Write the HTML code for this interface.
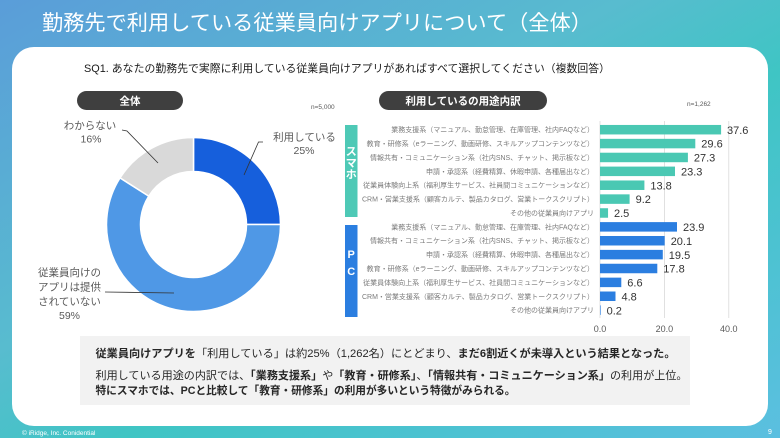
<!DOCTYPE html>
<html lang="ja">
<head>
<meta charset="utf-8">
<style>
  html,body{margin:0;padding:0;}
  body{width:780px;height:438px;overflow:hidden;
    background:linear-gradient(to bottom right,#5a9dd9 0%,#58bccf 40%,#3fc5c4 58%,#5bbfe0 100%);
    font-family:"Liberation Sans","Noto Sans CJK JP",sans-serif;}
  svg{display:block;}
  text{font-family:"Liberation Sans","Noto Sans CJK JP",sans-serif;}
</style>
</head>
<body>
<svg width="780" height="438" viewBox="0 0 780 438" xmlns="http://www.w3.org/2000/svg">
  <!-- Title -->
  <text x="42" y="30" font-size="21" fill="#ffffff" textLength="550" lengthAdjust="spacingAndGlyphs">勤務先で利用している従業員向けアプリについて（全体）</text>

  <!-- White panel -->
  <rect x="12" y="47" width="756" height="379" rx="22" ry="22" fill="#ffffff"/>

  <!-- SQ1 -->
  <text x="84" y="72" font-size="10.8" fill="#1a1a1a" textLength="526" lengthAdjust="spacingAndGlyphs">SQ1.  あなたの勤務先で実際に利用している従業員向けアプリがあればすべて選択してください（複数回答）</text>

  <!-- Pills -->
  <rect x="77" y="91" width="106" height="19" rx="9.5" fill="#3f3f3f"/>
  <text x="130" y="104.5" font-size="10.5" fill="#ffffff" text-anchor="middle" font-weight="bold">全体</text>
  <text x="311" y="109" font-size="6.5" fill="#595959">n=5,000</text>

  <rect x="379" y="91" width="168" height="19" rx="9.5" fill="#3f3f3f"/>
  <text x="463" y="104.5" font-size="10.5" fill="#ffffff" text-anchor="middle" font-weight="bold">利用しているの用途内訳</text>
  <text x="687" y="106" font-size="6.5" fill="#595959">n=1,262</text>

  <!-- Donut -->
  <g stroke="#ffffff" stroke-width="1.5">
    <path d="M193.5,137.5 A87,87 0 0 1 280.5,224.5 L246.5,224.5 A53,53 0 0 0 193.5,171.5 Z" fill="#165fdc"/>
    <path d="M280.5,224.5 A87,87 0 1 1 120.05,177.89 L148.75,196.1 A53,53 0 1 0 246.5,224.5 Z" fill="#4f98e6"/>
    <path d="M120.05,177.89 A87,87 0 0 1 193.5,137.5 L193.5,171.5 A53,53 0 0 0 148.75,196.1 Z" fill="#d9d9d9"/>
  </g>

  <!-- Donut labels -->
  <g font-size="10.5" fill="#595959" text-anchor="middle">
    <text x="304.5" y="140.5">利用している</text>
    <text x="304" y="154">25%</text>
    <text x="90" y="129">わからない</text>
    <text x="91" y="142.5">16%</text>
    <text x="69.5" y="276">従業員向けの</text>
    <text x="69.5" y="290.5">アプリは提供</text>
    <text x="69.5" y="305">されていない</text>
    <text x="69.5" y="319">59%</text>
  </g>
  <g stroke="#333333" stroke-width="0.8" fill="none">
    <polyline points="263,142 258.5,142 244,175"/>
    <polyline points="122,130 127,131 158,163"/>
    <polyline points="105,292 174,293"/>
  </g>

  <!-- Side group bars -->
  <rect x="345" y="125" width="12.5" height="92" fill="#4ec9b6"/>
  <rect x="345" y="225" width="12.5" height="92" fill="#2b7ee0"/>
  <g font-size="11" font-weight="bold" fill="#ffffff" text-anchor="middle">
    <text x="351.2" y="155">ス</text>
    <text x="351.2" y="166.5">マ</text>
    <text x="351.2" y="178">ホ</text>
    <text x="351.2" y="258">P</text>
    <text x="351.2" y="275">C</text>
  </g>

  <!-- Gridlines -->
  <g stroke="#d9d9d9" stroke-width="0.8">
    <line x1="600" y1="121" x2="600" y2="318"/>
    <line x1="664.4" y1="121" x2="664.4" y2="318"/>
    <line x1="728.8" y1="121" x2="728.8" y2="318"/>
  </g>
  <g font-size="9" fill="#595959" text-anchor="middle">
    <text x="600" y="332">0.0</text>
    <text x="664.4" y="332">20.0</text>
    <text x="728.8" y="332">40.0</text>
  </g>

  <!-- Bars -->
  <g fill="#4ac8b3">
    <rect x="600" y="124.95" width="121.1" height="9.5"/>
    <rect x="600" y="138.83" width="95.3" height="9.5"/>
    <rect x="600" y="152.71" width="87.9" height="9.5"/>
    <rect x="600" y="166.59" width="75.0" height="9.5"/>
    <rect x="600" y="180.47" width="44.4" height="9.5"/>
    <rect x="600" y="194.35" width="29.6" height="9.5"/>
    <rect x="600" y="208.23" width="8.05" height="9.5"/>
  </g>
  <g fill="#2b7ee0">
    <rect x="600" y="222.11" width="77.0" height="9.5"/>
    <rect x="600" y="235.99" width="64.7" height="9.5"/>
    <rect x="600" y="249.87" width="62.8" height="9.5"/>
    <rect x="600" y="263.75" width="57.3" height="9.5"/>
    <rect x="600" y="277.63" width="21.3" height="9.5"/>
    <rect x="600" y="291.51" width="15.5" height="9.5"/>
    <rect x="600" y="305.39" width="0.64" height="9.5"/>
  </g>

  <!-- Value labels -->
  <g font-size="11" fill="#333333">
    <text x="727" y="133.8">37.6</text>
    <text x="701.3" y="147.7">29.6</text>
    <text x="693.9" y="161.6">27.3</text>
    <text x="681" y="175.5">23.3</text>
    <text x="650.4" y="189.3">13.8</text>
    <text x="635.6" y="203.2">9.2</text>
    <text x="614" y="217.1">2.5</text>
    <text x="683" y="231">23.9</text>
    <text x="670.7" y="244.9">20.1</text>
    <text x="668.8" y="258.8">19.5</text>
    <text x="663.3" y="272.7">17.8</text>
    <text x="627.3" y="286.5">6.6</text>
    <text x="621.5" y="300.4">4.8</text>
    <text x="606.6" y="314.3">0.2</text>
  </g>

  <!-- Category labels -->
  <g font-size="7" fill="#7a7a7a" text-anchor="end">
    <text x="594" y="132.2">業務支援系（マニュアル、勤怠管理、在庫管理、社内FAQなど）</text>
    <text x="594" y="146.1">教育・研修系（eラーニング、動画研修、スキルアップコンテンツなど）</text>
    <text x="594" y="160">情報共有・コミュニケーション系（社内SNS、チャット、掲示板など）</text>
    <text x="594" y="173.8">申請・承認系（経費精算、休暇申請、各種届出など）</text>
    <text x="594" y="187.7">従業員体験向上系（福利厚生サービス、社員間コミュニケーションなど）</text>
    <text x="594" y="201.6">CRM・営業支援系（顧客カルテ、製品カタログ、営業トークスクリプト）</text>
    <text x="594" y="215.5">その他の従業員向けアプリ</text>
    <text x="594" y="229.4">業務支援系（マニュアル、勤怠管理、在庫管理、社内FAQなど）</text>
    <text x="594" y="243.2">情報共有・コミュニケーション系（社内SNS、チャット、掲示板など）</text>
    <text x="594" y="257.1">申請・承認系（経費精算、休暇申請、各種届出など）</text>
    <text x="594" y="271">教育・研修系（eラーニング、動画研修、スキルアップコンテンツなど）</text>
    <text x="594" y="284.9">従業員体験向上系（福利厚生サービス、社員間コミュニケーションなど）</text>
    <text x="594" y="298.8">CRM・営業支援系（顧客カルテ、製品カタログ、営業トークスクリプト）</text>
    <text x="594" y="312.6">その他の従業員向けアプリ</text>
  </g>

  <!-- Summary box -->
  <rect x="80" y="336" width="610" height="69" fill="#f2f2f2"/>
  <g font-size="10.8" fill="#262626">
    <text x="95.5" y="357" textLength="580" lengthAdjust="spacingAndGlyphs"><tspan font-weight="bold">従業員向けアプリを</tspan>「利用している」は約25%（1,262名）にとどまり、<tspan font-weight="bold">まだ6割近くが未導入という結果となった。</tspan></text>
    <text x="95.5" y="379" textLength="592" lengthAdjust="spacingAndGlyphs">利用している用途の内訳では、<tspan font-weight="bold">「業務支援系」</tspan>や<tspan font-weight="bold">「教育・研修系」</tspan>、<tspan font-weight="bold">「情報共有・コミュニケーション系」</tspan>の利用が上位。</text>
    <text x="95.5" y="394" font-weight="bold" textLength="420" lengthAdjust="spacingAndGlyphs">特にスマホでは、PCと比較して「教育・研修系」の利用が多いという特徴がみられる。</text>
  </g>

  <!-- Footer -->
  <text x="22" y="435" font-size="6.5" fill="#ffffff">© iRidge, Inc. Conidential</text>
  <text x="768" y="434" font-size="7" fill="#ffffff">9</text>
</svg>
</body>
</html>
